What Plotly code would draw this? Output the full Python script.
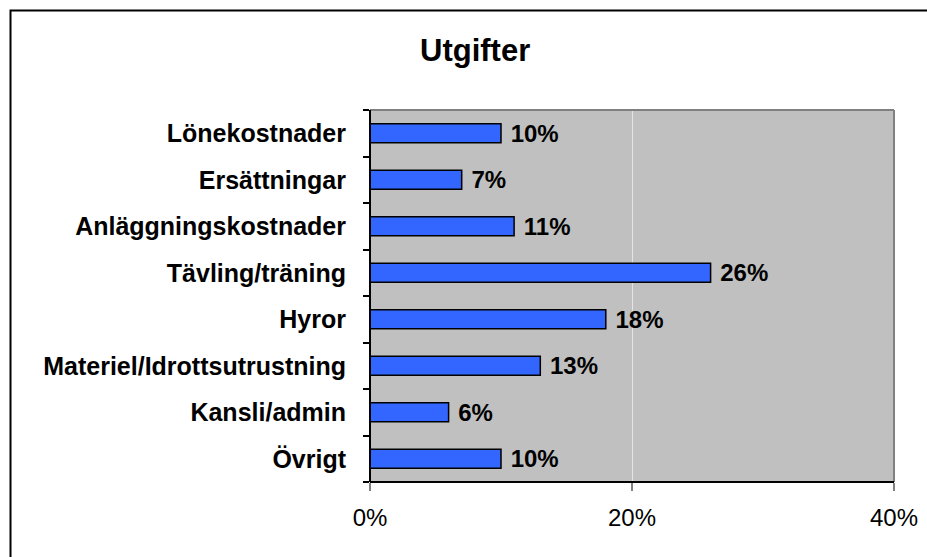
import plotly.graph_objects as go

categories = ["Lönekostnader", "Ersättningar", "Anläggningskostnader", "Tävling/träning",
              "Hyror", "Materiel/Idrottsutrustning", "Kansli/admin", "Övrigt"]
values = [0.10, 0.07, 0.11, 0.26, 0.18, 0.13, 0.06, 0.10]
x_ticks = [0, 0.2, 0.4]
x_tick_labels = ["0%", "20%", "40%"]
title = "Utgifter"

W, H = 927, 557
L, R, T, B = 370, 894, 110, 482
FONT = "Arial, Liberation Sans, sans-serif"

def px_x(p):
    return (p - L) / (R - L)

def px_y(p):
    return (B - p) / (B - T)

fig = go.Figure(go.Bar(
    x=values, y=categories, orientation="h",
    marker=dict(color="#3366FF", line=dict(color="black", width=1.5)),
    text=[f" {v:.0%}" for v in values], textposition="outside",
    constraintext="none",
    textfont=dict(family=FONT, size=24, color="black", weight="bold"),
    cliponaxis=False,
))

fig.update_layout(
    width=W, height=H, autosize=False,
    margin=dict(l=L, r=W - R, t=T, b=H - B, pad=0, autoexpand=False),
    paper_bgcolor="white", plot_bgcolor="#C0C0C0",
    showlegend=False, bargap=0.59,
    font=dict(family=FONT, color="black"),
    xaxis=dict(range=[0, 0.4], tickvals=x_ticks, ticktext=x_tick_labels,
               showgrid=True, gridcolor="#E4E4E4", gridwidth=1, zeroline=False,
               ticks="outside", ticklen=8, tickwidth=2, tickcolor="#808080",
               ticklabelstandoff=6, automargin=False,
               tickfont=dict(family=FONT, size=24, color="black"),
               showline=False, fixedrange=True),
    yaxis=dict(categoryorder="array", categoryarray=categories[::-1],
               autorange=False, range=[-0.5, len(categories) - 0.5],
               ticks="outside", tickson="boundaries", ticklen=6, tickwidth=1.5, tickcolor="black",
               ticklabelstandoff=23, automargin=False,
               tickfont=dict(family=FONT, size=25, color="black", weight="bold"),
               showgrid=False, zeroline=False, showline=False),
    shapes=[
        dict(type="line", xref="paper", yref="paper", x0=0, x1=1, y0=1, y1=1,
             line=dict(color="#808080", width=2), layer="above"),
        dict(type="line", xref="paper", yref="paper", x0=1, x1=1, y0=0, y1=1,
             line=dict(color="#808080", width=2), layer="above"),
        dict(type="line", xref="paper", yref="paper", x0=0, x1=0, y0=0, y1=1,
             line=dict(color="black", width=2), layer="above"),
        dict(type="line", xref="paper", yref="paper", x0=0, x1=1, y0=0, y1=0,
             line=dict(color="black", width=2), layer="above"),
        dict(type="rect", xref="paper", yref="paper",
             x0=px_x(10.5), x1=px_x(940), y0=px_y(10.5), y1=px_y(570),
             line=dict(color="black", width=2), fillcolor="rgba(0,0,0,0)", layer="above"),
    ],
    annotations=[
        dict(text=title, xref="paper", yref="paper", x=px_x(475), y=px_y(51),
             xanchor="center", yanchor="middle", showarrow=False,
             font=dict(family=FONT, size=31, color="black", weight="bold")),
    ],
)

fig.write_html("out.html", config={"displayModeBar": False},
               post_script="document.body.style.margin='0';")
